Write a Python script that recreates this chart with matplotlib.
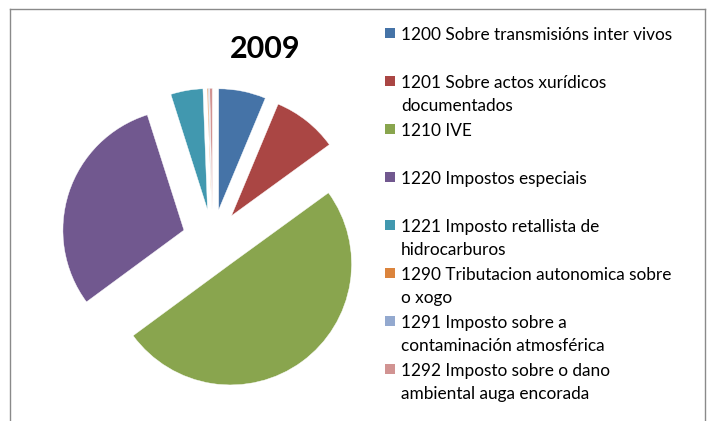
import matplotlib
matplotlib.use("Agg")
import matplotlib.pyplot as plt
from matplotlib.patches import Rectangle
from matplotlib.lines import Line2D

# datos 2009 (porcentaxes aproximadas)
labels = [
    "1200 Sobre transmisións inter vivos",
    "1201 Sobre actos xurídicos\ndocumentados",
    "1210 IVE",
    "1220 Impostos especiais",
    "1221 Imposto retallista de\nhidrocarburos",
    "1290 Tributacion autonomica sobre\no xogo",
    "1291 Imposto sobre a\ncontaminación atmosférica",
    "1292 Imposto sobre o dano\nambiental auga encorada",
]
valores = [6.3, 8.7, 49.9, 30.2, 4.3, 0.15, 0.1, 0.35]
cores = ["#4573A7", "#AA4644", "#89A54E", "#71588F",
         "#4198AF", "#DB843D", "#93A9CF", "#D19392"]
titulo = "2009"

W, H = 710, 421
fig = plt.figure(figsize=(W / 100, H / 100), dpi=100)
fig.patch.set_facecolor("white")

def fx(px):
    return px / W

def fy(py):
    return 1 - py / H

# marco do grafico
borde = "#8a8a8a"
fig.add_artist(Line2D([fx(9.5), fx(704.5)], [fy(8.5), fy(8.5)], color=borde, lw=1))
fig.add_artist(Line2D([fx(9.5), fx(9.5)], [fy(8.5), 0], color=borde, lw=1))
fig.add_artist(Line2D([fx(704.5), fx(704.5)], [fy(8.5), 0], color=borde, lw=1))

# tarta
r_px = 121
cx, cy = 212.7, 239.5
L = 1.6
lado = 2 * L * r_px
ax = fig.add_axes([fx(cx - lado / 2), fy(cy + lado / 2), lado / W, lado / H])
ax.pie(valores, colors=cores, startangle=90, counterclock=False,
       explode=[0.25] * len(valores),
       wedgeprops=dict(edgecolor="white", linewidth=0.3))
ax.set_xlim(-L, L)
ax.set_ylim(-L, L)
ax.set_aspect("auto")
ax.axis("off")

fig.text(fx(265), fy(49), titulo, ha="center", va="center",
         fontsize=22, fontweight="bold", family="Lato")

# lenda
fonte = "Lato"
for i, (lab, c) in enumerate(zip(labels, cores)):
    yc = 33 + 48 * i
    fig.add_artist(Rectangle((fx(385), fy(yc + 5)), 10 / W, 10 / H,
                             transform=fig.transFigure, color=c, lw=0))
    for j, liña in enumerate(lab.split("\n")):
        fig.text(fx(401), fy(40 + 48 * i + 23 * j), liña, ha="left",
                 va="baseline", fontsize=12.4, family=fonte, color="black")

fig.savefig("out.png", dpi=100)
